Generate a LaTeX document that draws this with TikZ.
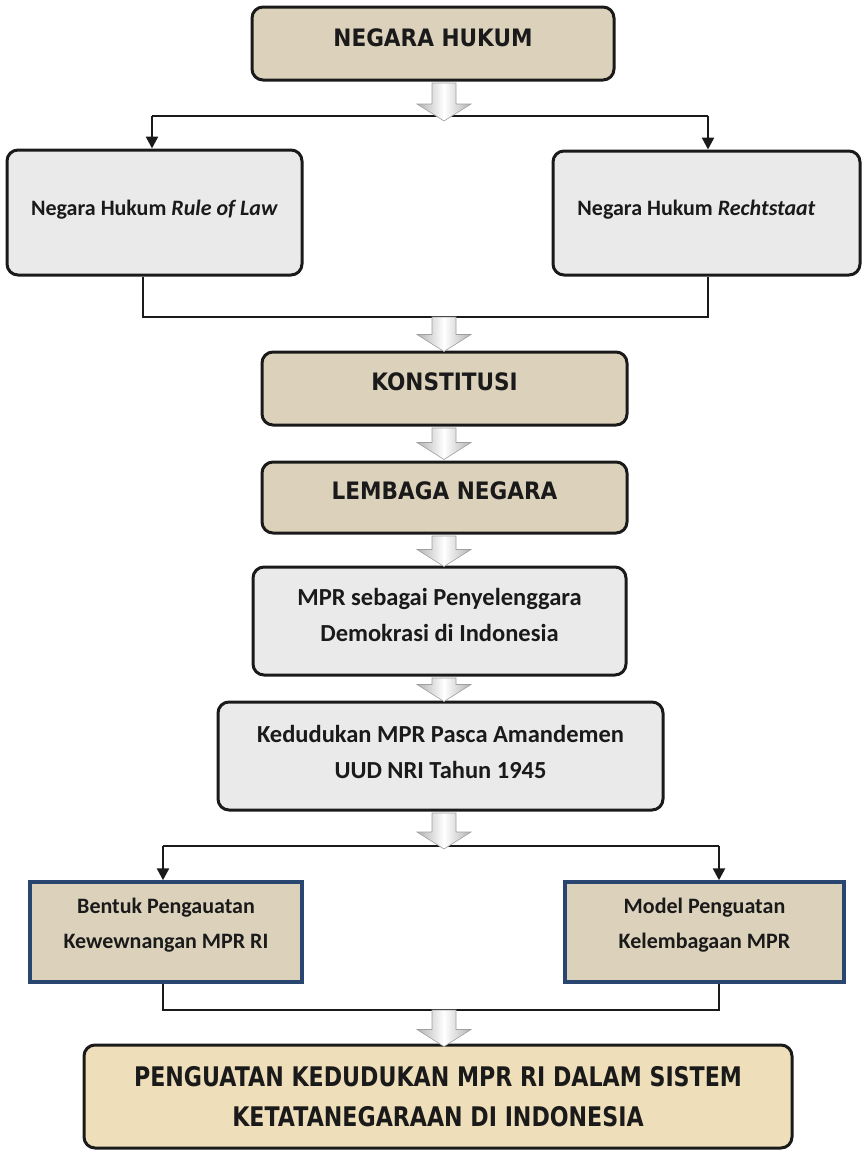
\documentclass[tikz,border=0pt]{standalone}
\usepackage{fontspec}
\setmainfont{Carlito}
\newfontfamily\hdfont{DejaVu Sans}[FakeStretch=0.9]
\newfontfamily\pkfont{DejaVu Sans}[FakeStretch=0.82]
\usetikzlibrary{arrows.meta,calc}
\definecolor{burlap}{HTML}{DCD2BC}
\definecolor{granite}{HTML}{EAEAEA}
\definecolor{parch}{HTML}{EEDFBA}
\definecolor{navy}{HTML}{284670}
\definecolor{ink}{HTML}{1A1A1A}
\tikzset{
 box/.style={draw=ink, line width=3pt, rounded corners=11pt, inner sep=0pt},
 tanbox/.style={box, fill=burlap},
 graybox/.style={box, fill=granite},
 bluebox/.style={draw=navy, line width=3.5pt, fill=burlap, inner sep=0pt},
 finalbox/.style={box, fill=parch},
 txt/.style={inner sep=0pt, align=center, text=ink},
 hdtxt/.style={txt, font=\hdfont\bfseries\fontsize{24}{28}\selectfont},
 cbtxt/.style={txt, font=\bfseries\fontsize{22}{35}\selectfont},
 bigtxt/.style={txt, font=\bfseries\fontsize{24.5}{36}\selectfont},
 pktxt/.style={txt, font=\pkfont\bfseries\fontsize{27}{40}\selectfont},
 conn/.style={draw=ink, line width=2.5pt},
 endtip/.style={-{Triangle[length=12pt,width=12pt]}},
 garr/.style={draw=gray!75, line width=0.6pt, left color=gray!60, right color=gray!60, middle color=white},
}
\newcommand\garrow[2]{%
 \path[garr] let \p1=#1, \p2=#2 in
 (\x1-12pt,\y1) -- (\x1+12pt,\y1) -- (\x1+12pt,\y2+17pt) -- (\x1+27pt,\y2+17pt) -- (\x1,\y2) -- (\x1-27pt,\y2+17pt) -- (\x1-12pt,\y2+17pt) -- cycle;}
\begin{document}
\begin{tikzpicture}[x=1pt,y=-1pt]
\useasboundingbox (0,0) rectangle (862,1151);
% boxes
\node[tanbox, minimum width=362pt, minimum height=73pt] (nh) at (433,43.5) {};
\node[hdtxt, yshift=6pt] (nht) at (nh) {NEGARA HUKUM};
\node[graybox, minimum width=295pt, minimum height=125pt] (rl) at (154.5,212.5) {};
\node[cbtxt, yshift=3pt] (rlt) at (rl) {Negara Hukum \textit{Rule of Law}};
\node[graybox, minimum width=307pt, minimum height=124pt] (rs) at (706.5,213) {};
\node[cbtxt, yshift=3pt, xshift=-10pt] (rst) at (rs) {Negara Hukum \textit{Rechtstaat}};
\node[tanbox, minimum width=365pt, minimum height=73pt] (ko) at (444.5,388.5) {};
\node[hdtxt, yshift=7pt] (kot) at (ko) {KONSTITUSI};
\node[tanbox, minimum width=365pt, minimum height=71pt] (ln) at (444.5,497.5) {};
\node[hdtxt, yshift=7pt] (lnt) at (ln) {LEMBAGA NEGARA};
\node[graybox, minimum width=373pt, minimum height=108pt] (mpr) at (439.5,621) {};
\node[bigtxt, yshift=6pt] (mprt) at (mpr) {MPR sebagai Penyelenggara\\Demokrasi di Indonesia};
\node[graybox, minimum width=445pt, minimum height=108pt] (kd) at (440.5,756) {};
\node[bigtxt, yshift=4pt] (kdt) at (kd) {Kedudukan MPR Pasca Amandemen\\UUD NRI Tahun 1945};
\node[bluebox, minimum width=272pt, minimum height=100pt] (bk) at (166,932) {};
\node[cbtxt, yshift=7pt] (bkt) at (bk) {Bentuk Pengauatan\\Kewewnangan MPR RI};
\node[bluebox, minimum width=279pt, minimum height=100pt] (mk) at (704.5,932) {};
\node[cbtxt, yshift=7pt] (mkt) at (mk) {Model Penguatan\\Kelembagaan MPR};
\node[finalbox, minimum width=708pt, minimum height=103pt] (pk) at (438,1096.5) {};
\node[pktxt] (pkt) at (pk) {PENGUATAN KEDUDUKAN MPR RI DALAM SISTEM\\KETATANEGARAAN DI INDONESIA};
% junction coordinates
\coordinate (ax) at (444,0);
\coordinate (t1) at (152,116); \coordinate (t2) at (708,116);
\coordinate (b1) at (143,317); \coordinate (b2) at (708,317);
\coordinate (t3) at (163,846); \coordinate (t4) at (719,846);
\coordinate (b3) at (163,1010); \coordinate (b4) at (719,1010);
% black connectors
\draw[conn] (t1) -- (t2);
\draw[conn,endtip] (t1) -- (t1 |- rl.north);
\draw[conn,endtip] (t2) -- (t2 |- rs.north);
\draw[conn] (b1 |- rl.south) -- (b1) -- (b2) -- (b2 |- rs.south);
\draw[conn] (t3) -- (t4);
\draw[conn,endtip] (t3) -- (t3 |- bk.north);
\draw[conn,endtip] (t4) -- (t4 |- mk.north);
\draw[conn] (b3 |- bk.south) -- (b3) -- (b4) -- (b4 |- mk.south);
% gray block arrows
\garrow{($(ax |- nh.south)+(0,1.5)$)}{($(ax |- t1)+(0,5)$)}
\garrow{(ax |- b1)}{($(ax |- ko.north)+(0,1)$)}
\garrow{($(ax |- ko.south)+(0,1.5)$)}{($(ax |- ln.north)+(0,-1)$)}
\garrow{($(ax |- ln.south)+(0,1.5)$)}{($(ax |- mpr.north)+(0,1)$)}
\garrow{($(ax |- mpr.south)+(0,1.5)$)}{($(ax |- kd.north)+(0,1)$)}
\garrow{($(ax |- kd.south)+(0,1.5)$)}{($(ax |- t3)+(0,3)$)}
\garrow{(ax |- b3)}{($(ax |- pk.north)+(0,3)$)}
\end{tikzpicture}
\end{document}
